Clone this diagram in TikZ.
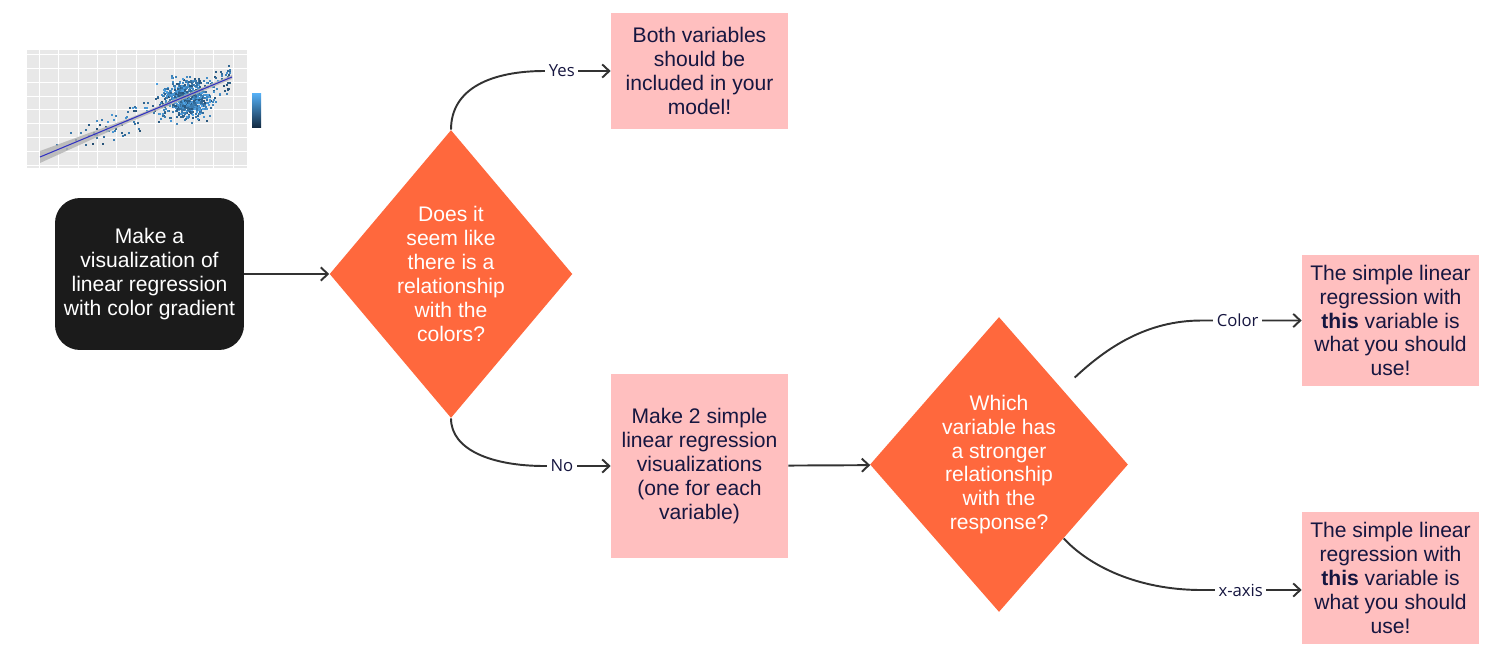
\documentclass[tikz,border=0pt]{standalone}
\usepackage{fontspec}
\usepackage{tikz}
\usetikzlibrary{shapes.geometric}
\usetikzlibrary{positioning}
\usetikzlibrary{arrows.meta}
\usetikzlibrary{calc}
\setmainfont{Liberation Sans}
\newfontfamily\lblfont{Open Sans}
\definecolor{navy}{RGB}{22,22,64}
\definecolor{pinkbox}{RGB}{255,191,191}
\definecolor{orangedia}{RGB}{255,104,61}
\definecolor{darkbox}{RGB}{27,27,27}
\definecolor{linkgray}{RGB}{50,50,50}
\definecolor{panelgray}{RGB}{232,232,232}
\definecolor{ptlight}{RGB}{86,177,247}
\definecolor{ptdark}{RGB}{19,43,67}

\begin{document}
\begin{tikzpicture}[x=0.02cm,y=-0.02cm,
        txt/.style={font=\fontsize{12}{13.6}\selectfont,align=center,inner sep=0pt},
        box/.style={txt,fill=pinkbox,text=navy,minimum width=3.54cm},
        dia/.style={txt,diamond,fill=orangedia,text=white},
        link/.style={draw=linkgray,line width=1.1pt,-{Straight Barb[length=4pt,width=7.5pt]}},
        lbl/.style={font=\lblfont\fontsize{9.5}{11}\selectfont,text=navy,fill=white,inner sep=2pt}]
   \useasboundingbox (0,0) rectangle (1500,666);
   % little scatter plot
   \fill[panelgray] (27,50) rectangle (247,168);
   \foreach \gx in {58,97,136,174,213} \draw[white,line width=0.2pt] (\gx,50) -- (\gx,168);
   \foreach \gx in {39,78,116,155,194,233} \draw[white,line width=0.5pt] (\gx,50) -- (\gx,168);
   \foreach \gy in {68,96,123,151} \draw[white,line width=0.2pt] (27,\gy) -- (247,\gy);
   \foreach \gy in {54,82,109,137,165} \draw[white,line width=0.5pt] (27,\gy) -- (247,\gy);
   \pgfmathsetseed{42}
   \foreach \i in {1,...,160}{
      \pgfmathsetmacro{\px}{40+190*sqrt(rnd)}
      \pgfmathsetmacro{\py}{157-(\px-40)*80/192+14*rand}
      \pgfmathsetmacro{\sh}{int(25+60*rnd)}
      \fill[ptlight!\sh!ptdark] (\px,\py) rectangle +(2,2);
   }
   \foreach \i in {1,...,750}{
      \pgfmathsetmacro{\px}{186+11*(rand+rand+rand)}
      \pgfmathsetmacro{\py}{98+9*(rand+rand+rand)}
      \pgfmathsetmacro{\sh}{int(30+60*rnd)}
      \fill[ptlight!\sh!ptdark] (\px,\py) rectangle +(2,2);
   }
   \fill[gray!60,opacity=0.8] (40,151) -- (130,118) -- (232,75) -- (232,79) -- (130,122) -- (40,163) -- cycle;
   \draw[blue!70!black!80,line width=0.6pt] (40,157) -- (232,77);
   \shade[top color=ptlight,bottom color=ptdark] (252,93) rectangle (261,127);
   % flowchart
   \node[txt,fill=darkbox,text=white,rounded corners=0.5cm,minimum width=3.78cm,minimum height=3.04cm] (A) at (149.5,274)
      {Make a\\visualization of\\linear regression\\with color gradient};
   \node[dia,minimum width=4.64cm,minimum height=5.76cm] (B) at (451,274)
      {Does it\\seem like\\there is a\\relationship\\with the\\colors?};
   \node[box,minimum height=2.32cm] (C) at (699.5,71)
      {Both variables\\should be\\included in your\\model!};
   \node[box,minimum height=3.68cm] (D) at (699.5,466)
      {Make 2 simple\\linear regression\\visualizations\\(one for each\\variable)};
   \node[dia,minimum width=5.16cm,minimum height=5.9cm] (E) at (999,464.5)
      {Which\\variable has\\a stronger\\relationship\\with the\\response?};
   \node[box,minimum height=2.62cm] (F) at (1390.5,320.5)
      {The simple linear\\regression with\\\textbf{this} variable is\\what you should\\use!};
   \node[box,minimum height=2.64cm] (G) at (1390.5,578)
      {The simple linear\\regression with\\\textbf{this} variable is\\what you should\\use!};
   \draw[link] (A) -- (B);
   \draw[link] (B.north) .. controls +(0,-42) and +(-52,0) .. ($(C.west)+(-66,0)$)
      -- node[lbl,pos=0.26] {Yes} (C.west);
   \draw[link] (B.south) .. controls +(0,32) and +(-52,0) .. ($(D.west)+(-66,0)$)
      -- node[lbl,pos=0.26] {No} (D.west);
   \draw[link] (D) -- (E);
   \draw[link] ($(E.north east)+(11,-13)$) .. controls +(32,-30) and +(-55,0) .. ($(F.west)+(-100,0)$)
      -- node[lbl,pos=0.36] {Color} (F.west);
   \draw[link] (E.south east) .. controls +(25,27) and +(-65,0) .. ($(G.west)+(-100,12)$)
      -- node[lbl,pos=0.39] {x-axis} ($(G.west)+(0,12)$);
\end{tikzpicture}
\end{document}
